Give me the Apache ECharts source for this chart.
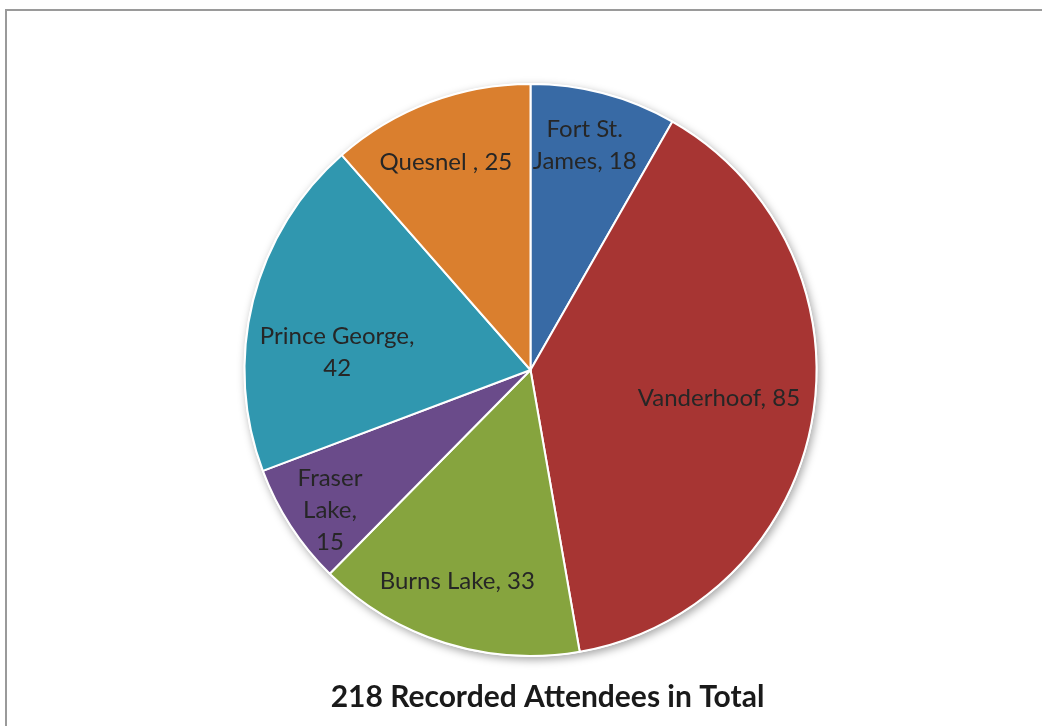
<!DOCTYPE html>
<html><head><meta charset="utf-8">
<script src="https://cdn.jsdelivr.net/npm/echarts@6/dist/echarts.min.js"></script>
<style>html,body{margin:0;padding:0;background:#fff}#c{width:1042px;height:726px}</style>
</head><body><div id="c"></div>
<script>
const categories = ['Fort St. James', 'Vanderhoof', 'Burns Lake', 'Fraser Lake', 'Prince George', 'Quesnel '];
const values = [18, 85, 33, 15, 42, 25];
const totalText = '218 Recorded Attendees in Total';

const colors = ['#386AA5', '#A73533', '#86A43E', '#6A4B8A', '#3097AF', '#DA7F2E'];
// label line wrapping (display only)
const wrapped = {
  'Fort St. James': 'Fort St.\nJames',
  'Prince George': 'Prince George,\n',
  'Fraser Lake': 'Fraser\nLake,\n'
};
// label placement (layout only): fraction of radius, angular offset in degrees from slice middle
const labelFrac = [0.808, 0.666, 0.781, 0.855, 0.679, 0.785];
const labelShift = [-1.3, -1.5, 1.8, -1.9, -8.7, -1.5];

const cx = 530.5, cy = 370, R = 286;
const total = values.reduce((a, b) => a + b, 0);

const chart = echarts.init(document.getElementById('c'), null, {renderer: 'canvas'});
chart.setOption({
  animation: false,
  backgroundColor: '#fff',
  graphic: [{
    type: 'rect', shape: {x: 6, y: 10, width: 1100, height: 800},
    style: {fill: 'none', stroke: '#9a9a9a', lineWidth: 2}, silent: true, z: 0
  }, {
    type: 'text', x: 547.5, y: 697,
    style: {text: totalText, font: 'bold 30px Lato', fill: '#1a1a1a', align: 'center', verticalAlign: 'middle'}, z: 10
  }],
  series: [{
    type: 'pie', silent: true, center: [cx, cy], radius: R + 1, z: 1,
    label: {show: false}, labelLine: {show: false},
    data: [{value: 1, itemStyle: {color: '#fff', shadowBlur: 8, shadowColor: 'rgba(0,0,0,0.35)', shadowOffsetX: 2, shadowOffsetY: 3}}]
  }, {
    type: 'pie', center: [cx, cy], radius: R, startAngle: 90, clockwise: true, z: 2,
    itemStyle: {borderColor: '#fff', borderWidth: 2},
    label: {
      show: true, position: 'inside', color: '#262626', fontFamily: 'Lato', fontSize: 24,
      lineHeight: 32, align: 'center',
      formatter: p => {
        const n = wrapped[p.name];
        if (n) return n.endsWith('\n') ? n + p.value : n + ', ' + p.value;
        return p.name + ', ' + p.value;
      }
    },
    labelLayout: p => {
      const i = p.dataIndex;
      let cum = 0;
      for (let k = 0; k < i; k++) cum += values[k];
      const mid = (cum + values[i] / 2) / total * 2 * Math.PI + labelShift[i] * Math.PI / 180;
      const r = R * labelFrac[i];
      return {x: cx + r * Math.sin(mid), y: cy - r * Math.cos(mid), align: 'center', verticalAlign: 'middle'};
    },
    data: categories.map((c, i) => ({name: c, value: values[i], itemStyle: {color: colors[i]}}))
  }]
});
</script></body></html>
